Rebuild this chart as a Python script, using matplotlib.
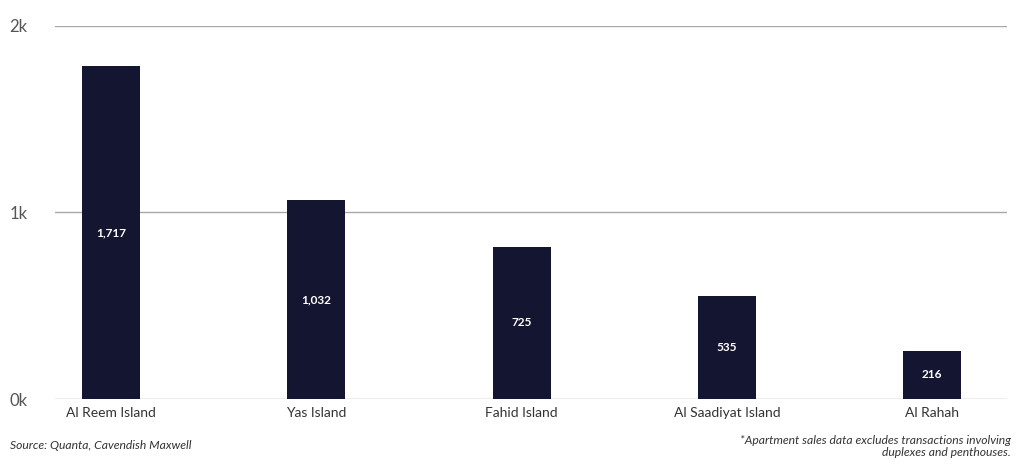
import matplotlib.pyplot as plt

# Data
areas = ['Al Reem Island', 'Yas Island', 'Fahid Island', 'Al Saadiyat Island', 'Al Rahah']
bar_heights = [1786, 1065, 816, 554, 259]          # heights as drawn
value_labels = ['1,717', '1,032', '725', '535', '216']  # labels as printed
y_ticks = [0, 1000, 2000]
y_tick_labels = ['0k', '1k', '2k']

bar_color = '#141530'
text_color = '#555555'
grid_color = '#a8a8a8'

plt.rcParams['font.family'] = ['Lato', 'DejaVu Sans']

fig = plt.figure(figsize=(10.24, 4.74), dpi=100)
ax = fig.add_axes([0.0537, 0.158, 0.9297, 0.7878])

x = list(range(len(areas)))
bars = ax.bar(x, bar_heights, width=0.283, color=bar_color, zorder=3)

for b, lab in zip(bars, value_labels):
    ax.text(b.get_x() + b.get_width() / 2, b.get_height() / 2, lab,
            ha='center', va='center', color='white', fontsize=8.5,
            fontweight='bold', zorder=4)

ax.set_xlim(-0.273, 4.365)
ax.set_ylim(0, 2000)
ax.set_yticks(y_ticks)
ax.set_yticklabels(y_tick_labels)
ax.set_xticks(x)
ax.set_xticklabels(areas)

ax.yaxis.grid(True, color=grid_color, linewidth=1.0, zorder=0)
ax.set_axisbelow(True)
for s in ax.spines.values():
    s.set_visible(False)

ax.tick_params(axis='y', length=0, pad=33, labelsize=12, labelcolor=text_color)
for t in ax.get_yticklabels():
    t.set_horizontalalignment('left')
ax.tick_params(axis='x', length=0, pad=6, labelsize=10, labelcolor='#333333')

fig.text(0.0098, 0.061, 'Source: Quanta, Cavendish Maxwell', fontsize=8.7,
         style='italic', color='#333333', ha='left', va='center')
fig.text(0.987, 0.0585,
         '*Apartment sales data excludes transactions involving\nduplexes and penthouses.',
         fontsize=8.7, style='italic', color='#333333', ha='right', va='center',
         linespacing=1.15, multialignment='right')

fig.savefig('out.png', dpi=100)
